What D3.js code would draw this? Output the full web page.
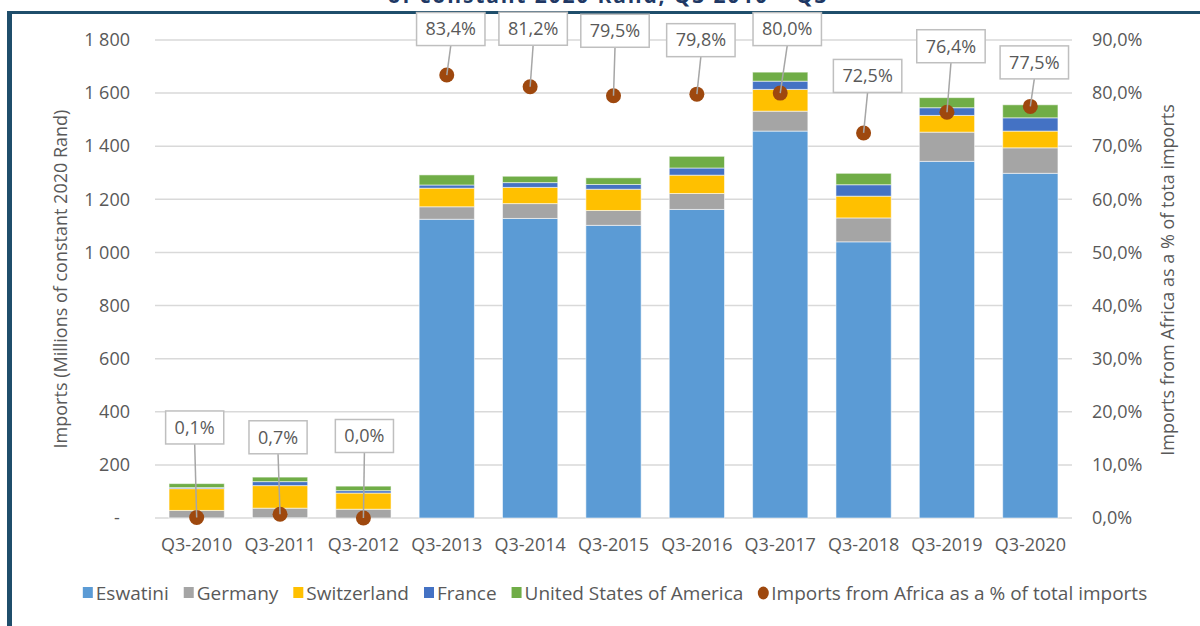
<!DOCTYPE html>
<html>
<head>
<meta charset="utf-8">
<script src="https://cdn.jsdelivr.net/npm/d3@7"></script>
<style>
  body { margin: 0; background: #fff; }
  svg { display: block; font-family: "Open Sans", sans-serif; }
</style>
</head>
<body>
<div id="chart"></div>
<script>
// data
const categories = ["Q3-2010", "Q3-2011", "Q3-2012", "Q3-2013", "Q3-2014", "Q3-2015",
  "Q3-2016", "Q3-2017", "Q3-2018", "Q3-2019", "Q3-2020"];
const seriesNames = ["Eswatini", "Germany", "Switzerland", "France", "United States of America"];
const eswatini = [0.5, 1, 0, 1125, 1128, 1102, 1162, 1457, 1040, 1343, 1298];
const germany = [28, 36, 33, 47, 56, 56, 60, 75, 90, 110, 96];
const switzerland = [82, 85, 61, 70, 61, 80, 69, 82, 82, 63, 63];
const france = [4, 15, 9, 12, 18, 18, 27, 31, 43, 29, 50];
const usa = [15, 17, 17, 38, 24, 25, 44, 34, 43, 38, 49];
const africaShare = [0.1, 0.7, 0.0, 83.4, 81.2, 79.5, 79.8, 80.0, 72.5, 76.4, 77.5];
const leftTicks = [0, 200, 400, 600, 800, 1000, 1200, 1400, 1600, 1800];
const rightTicks = [0, 10, 20, 30, 40, 50, 60, 70, 80, 90];

// label box offsets from each marker (px), hand placed as in the original
const labelOffsets = [[-2, -90], [-2, -77], [1, -82], [4, -46], [3, -58], [1.5, -65],
  [4, -54], [7, -64], [4, -57], [4, -66], [4, -44]];

const colors = ["#5B9BD5", "#A5A5A5", "#FFC000", "#4472C4", "#70AD47"];
const dotColor = "#9E480E";
const textColor = "#595959";

const W = 1200, H = 626;
const plot = { left: 155, right: 1072, top: 40, bottom: 518 };

const svg = d3.select("#chart").append("svg")
  .attr("width", W).attr("height", H);

// frame
svg.append("line")
  .attr("x1", 7).attr("x2", W).attr("y1", 12.5).attr("y2", 12.5)
  .attr("stroke", "#1F4E6B").attr("stroke-width", 3);
svg.append("line")
  .attr("x1", 9.5).attr("x2", 9.5).attr("y1", 11).attr("y2", H)
  .attr("stroke", "#1F4E6B").attr("stroke-width", 5);

// title (clipped by the top of the picture, as in the original)
svg.append("text")
  .attr("x", 607).attr("y", 3)
  .attr("text-anchor", "middle")
  .attr("textLength", 439)
  .style("font-size", "21px").style("font-weight", "bold")
  .style("fill", "#203864")
  .text("of constant 2020 Rand, Q3 2010 \u2013 Q3");

const loc = d3.formatLocale({ decimal: ",", thousands: " ", grouping: [3], currency: ["", ""] });
const fmtNum = loc.format(",.0f");
const fmtPct = loc.format(".1%");

const x = d3.scaleBand()
  .domain(categories)
  .range([plot.left, plot.right])
  .paddingInner(0.337)
  .paddingOuter(0.1685);

const y = d3.scaleLinear().domain([0, 1800]).range([plot.bottom, plot.top]);
const y2 = d3.scaleLinear().domain([0, 90]).range([plot.bottom, plot.top]);

// gridlines
svg.append("g")
  .selectAll("line")
  .data(leftTicks)
  .enter().append("line")
  .attr("x1", plot.left).attr("x2", plot.right)
  .attr("y1", d => y(d)).attr("y2", d => y(d))
  .attr("stroke", "#D9D9D9").attr("stroke-width", 1.5);

// left axis
const leftAxis = svg.append("g")
  .attr("transform", "translate(" + plot.left + ",0)")
  .call(d3.axisLeft(y).tickValues(leftTicks).tickSize(0).tickPadding(25)
    .tickFormat(d => d === 0 ? "-\u2007" : fmtNum(d)));
leftAxis.select(".domain").remove();
leftAxis.selectAll("text")
  .style("font-size", "18px").style("fill", textColor).style("font-family", "Open Sans");

// right axis
const rightAxis = svg.append("g")
  .attr("transform", "translate(" + plot.right + ",0)")
  .call(d3.axisRight(y2).tickValues(rightTicks).tickSize(0).tickPadding(20)
    .tickFormat(d => fmtPct(d / 100)));
rightAxis.select(".domain").remove();
rightAxis.selectAll("text")
  .style("font-size", "18px").style("fill", textColor).style("font-family", "Open Sans");

// bottom axis
const bottomAxis = svg.append("g")
  .attr("transform", "translate(0," + plot.bottom + ")")
  .call(d3.axisBottom(x).tickSize(0).tickPadding(20));
bottomAxis.select(".domain").remove();
bottomAxis.selectAll("text")
  .style("font-size", "18px").style("fill", textColor).style("font-family", "Open Sans");

// axis titles
svg.append("text")
  .attr("transform", "translate(61,279)rotate(-90)")
  .attr("text-anchor", "middle").attr("dy", "0.35em")
  .style("font-size", "18px").style("fill", textColor)
  .text("Imports (Millions of constant 2020 Rand)");
svg.append("text")
  .attr("transform", "translate(1168,280)rotate(-90)")
  .attr("text-anchor", "middle").attr("dy", "0.35em")
  .style("font-size", "18px").style("fill", textColor)
  .text("Imports from Africa as a % of tota imports");

// stacked bars
const table = categories.map((c, i) => ({
  cat: c,
  "Eswatini": eswatini[i],
  "Germany": germany[i],
  "Switzerland": switzerland[i],
  "France": france[i],
  "United States of America": usa[i]
}));
const stacked = d3.stack().keys(seriesNames)(table);

svg.append("g")
  .selectAll("g")
  .data(stacked)
  .enter().append("g")
  .attr("fill", (d, i) => colors[i])
  .selectAll("rect")
  .data(d => d)
  .enter().append("rect")
  .attr("x", d => x(d.data.cat))
  .attr("width", x.bandwidth())
  .attr("y", d => y(d[1]))
  .attr("height", d => Math.max(0, y(d[0]) - y(d[1])))
  .attr("stroke", "#fff").attr("stroke-opacity", 0.55).attr("stroke-width", 1);

// markers + data labels
const points = categories.map((c, i) => ({
  cat: c, v: africaShare[i],
  cx: x(c) + x.bandwidth() / 2, cy: y2(africaShare[i]),
  off: labelOffsets[i]
}));

svg.append("g")
  .selectAll("circle")
  .data(points)
  .enter().append("circle")
  .attr("cx", d => d.cx).attr("cy", d => d.cy).attr("r", 7.5)
  .attr("fill", dotColor);

const labels = svg.append("g")
  .selectAll("g")
  .data(points)
  .enter().append("g");

labels.each(function (d) {
  const g = d3.select(this);
  const lx = d.cx + d.off[0], ly = d.cy + d.off[1];
  const t = g.append("text")
    .attr("x", lx).attr("y", ly).attr("dy", "0.35em")
    .attr("text-anchor", "middle")
    .style("font-size", "18px").style("fill", textColor)
    .text(fmtPct(d.v / 100));
  const tw = t.node().getComputedTextLength();
  const bw = tw + 18, bh = 33;
  g.insert("line", "text")
    .attr("x1", lx).attr("y1", ly + bh / 2)
    .attr("x2", d.cx).attr("y2", d.cy)
    .attr("stroke", "#A6A6A6").attr("stroke-width", 1.5);
  g.insert("rect", "text")
    .attr("x", lx - bw / 2).attr("y", ly - bh / 2)
    .attr("width", bw).attr("height", bh)
    .attr("fill", "#fff").attr("stroke", "#BFBFBF").attr("stroke-width", 1.5);
});

// legend
const legendItems = seriesNames.map((n, i) => ({ name: n, color: colors[i], type: "rect" }))
  .concat([{ name: "Imports from Africa as a % of total imports", color: dotColor, type: "dot" }]);
const legend = svg.append("g");
const legendY = 593;
let lx = 0;
legendItems.forEach(function (d) {
  const item = legend.append("g");
  if (d.type === "rect") {
    item.append("rect").attr("x", lx).attr("y", legendY - 6)
      .attr("width", 10).attr("height", 11).attr("fill", d.color);
  } else {
    item.append("ellipse").attr("cx", lx + 5).attr("cy", legendY)
      .attr("rx", 5.5).attr("ry", 6.5).attr("fill", d.color);
  }
  const t = item.append("text")
    .attr("x", lx + 13).attr("y", legendY).attr("dy", "0.35em")
    .style("font-size", "19px").style("fill", textColor)
    .text(d.name);
  lx += 13 + t.node().getComputedTextLength() + 15;
});
const legendW = lx - 15;
legend.attr("transform", "translate(" + (615 - legendW / 2) + ",0)");
</script>
</body>
</html>
